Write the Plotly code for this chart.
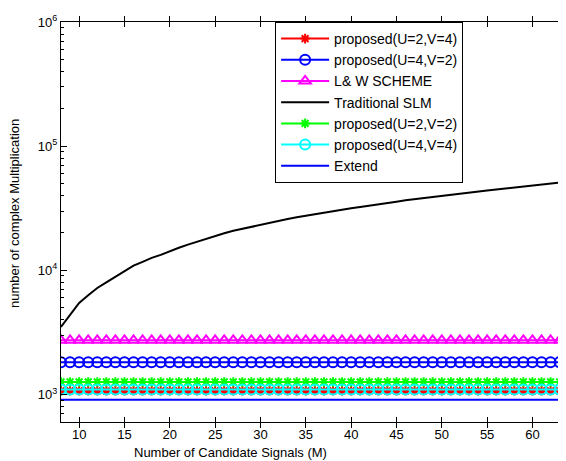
import plotly.graph_objects as go

M = list(range(8, 65))

slm = [3500, 4400, 5450, 6300, 7200, 8000, 8900, 9900, 10900, 11700,
       12600, 13300, 14300, 15200, 16100, 17000, 18000, 19000, 19900, 20800,
       21600, 22400, 23300, 24100, 24900, 25900, 26700, 27500, 28400, 29200,
       30000, 30800, 31600, 32400, 33300, 34100, 34900, 35700, 36600, 37400,
       38200, 39000, 39900, 40700, 41500, 42300, 43200, 44000, 44800, 45600,
       46500, 47300, 48100, 49000, 49800, 50800, 51800]

p24 = 1070
p42 = 1820
lw = 2730
p22 = 1260
p44 = 1095
ext = 905

names = ["proposed(U=2,V=4)", "proposed(U=4,V=2)", "L& W SCHEME",
         "Traditional SLM", "proposed(U=2,V=2)", "proposed(U=4,V=4)", "Extend"]

x_ticks = [10, 15, 20, 25, 30, 35, 40, 45, 50, 55, 60]
y_major = [1000, 10000, 100000, 1000000]
y_major_text = ["10<sup>3</sup>", "10<sup>4</sup>", "10<sup>5</sup>", "10<sup>6</sup>"]
y_minor = [600, 700, 800, 900,
           2000, 3000, 4000, 5000, 6000, 7000, 8000, 9000,
           20000, 30000, 40000, 50000, 60000, 70000, 80000, 90000,
           200000, 300000, 400000, 500000, 600000, 700000, 800000, 900000]

fig = go.Figure()

def const(v):
    return [v] * len(M)

fig.add_trace(go.Scatter(x=M, y=const(p24), name=names[0], mode="lines+markers",
                         line=dict(color="#FF0000", width=2),
                         marker=dict(symbol="asterisk-open", size=8, color="#FF0000",
                                     line=dict(color="#FF0000", width=2))))
fig.add_trace(go.Scatter(x=M, y=const(p42), name=names[1], mode="lines+markers",
                         line=dict(color="#0000FF", width=2),
                         marker=dict(symbol="circle-open", size=10, color="#0000FF",
                                     line=dict(color="#0000FF", width=2))))
fig.add_trace(go.Scatter(x=M, y=const(lw), name=names[2], mode="lines+markers",
                         line=dict(color="#FF00FF", width=2),
                         marker=dict(symbol="triangle-up-open", size=10, color="#FF00FF",
                                     line=dict(color="#FF00FF", width=2))))
fig.add_trace(go.Scatter(x=M, y=slm, name=names[3], mode="lines",
                         line=dict(color="#000000", width=2)))
fig.add_trace(go.Scatter(x=M, y=const(p22), name=names[4], mode="lines+markers",
                         line=dict(color="#00FF00", width=2),
                         marker=dict(symbol="asterisk-open", size=8, color="#00FF00",
                                     line=dict(color="#00FF00", width=2))))
fig.add_trace(go.Scatter(x=M, y=const(p44), name=names[5], mode="lines+markers",
                         line=dict(color="#00FFFF", width=2),
                         marker=dict(symbol="circle-open", size=10, color="#00FFFF",
                                     line=dict(color="#00FFFF", width=2))))
fig.add_trace(go.Scatter(x=M, y=const(ext), name=names[6], mode="lines",
                         line=dict(color="#0000FF", width=2)))

font = "Liberation Sans, Arial, sans-serif"
yrange = [2.778, 6]

fig.update_layout(
    width=558, height=453,
    margin=dict(l=53, r=0, t=14, b=39),
    paper_bgcolor="white", plot_bgcolor="white",
    font=dict(family=font, size=13, color="black"),
    showlegend=True,
    legend=dict(x=0.424, y=1.0, xanchor="left", yanchor="top",
                bgcolor="white", bordercolor="black", borderwidth=1,
                font=dict(family=font, size=14, color="black"),
                itemwidth=48, tracegroupgap=0),
    xaxis=dict(range=[8, 63.7], tickvals=x_ticks,
               ticks="inside", ticklen=5, tickcolor="black",
               showline=True, linecolor="black", linewidth=1, mirror="allticks",
               showgrid=False, zeroline=False, automargin=False),
    yaxis=dict(type="log", range=yrange, tickmode="array",
               tickvals=y_major, ticktext=y_major_text,
               ticks="inside", ticklen=6, tickcolor="black",
               showline=True, linecolor="black", linewidth=1, mirror="allticks",
               showgrid=False, zeroline=False, automargin=False),
    yaxis2=dict(type="log", range=yrange, overlaying="y", side="left",
                tickmode="array", tickvals=y_minor, showticklabels=False,
                ticks="inside", ticklen=3, tickcolor="black",
                showline=False, mirror="ticks", showgrid=False, zeroline=False),
    annotations=[
        dict(text="Number of Candidate Signals (M)", xref="paper", yref="paper",
             x=0.335, y=-0.075, xanchor="center", yanchor="middle",
             showarrow=False, font=dict(family=font, size=13)),
        dict(text="number of complex Multiplication", xref="paper", yref="paper",
             x=-0.093, y=0.52, xanchor="center", yanchor="middle", textangle=-90,
             showarrow=False, font=dict(family=font, size=13)),
    ],
)

# invisible trace to activate the minor-tick axis
fig.add_trace(go.Scatter(x=[8], y=[1000], yaxis="y2", mode="markers",
                         marker=dict(opacity=0), showlegend=False, hoverinfo="skip"))

fig.write_html("out.html")
